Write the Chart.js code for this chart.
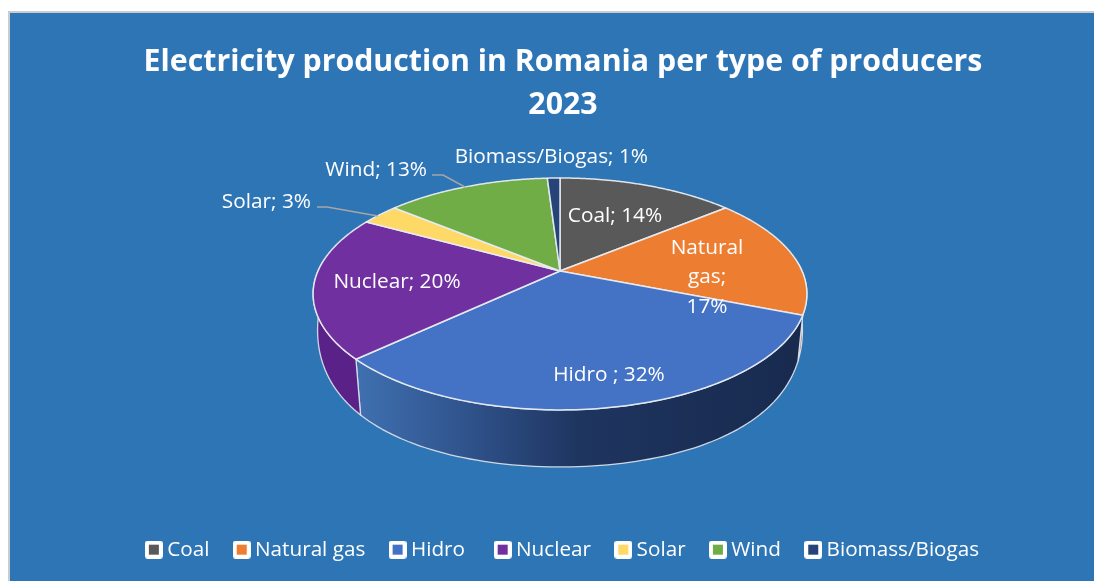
<!DOCTYPE html>
<html>
<head>
<meta charset="utf-8">
<style>html,body{margin:0;padding:0;background:#fff}canvas{display:block}</style>
<script src="https://cdn.jsdelivr.net/npm/chart.js@4"></script>
</head>
<body>
<div style="width:1094px;height:581px"><canvas id="c" width="1094" height="581"></canvas></div>
<script>
const titleLines = ['Electricity production in Romania per type of producers', '2023'];
const categories = ['Coal', 'Natural gas', 'Hidro ', 'Nuclear', 'Solar', 'Wind', 'Biomass/Biogas'];
const values = [14, 17, 32, 20, 3, 13, 1];
const colors = ['#595959', '#ED7D31', '#4472C4', '#7030A0', '#FFD966', '#70AD47', '#264478'];

// Perspective of the pie disc (top face and lower rim)
const disc = {cx: 560, cy: 271, a: 242, b: 111.4, k: -0.198};
const rim = {cx: 560, cy: 296.5, a: 238, b: 179, kx: -0.19, ky: 0.05};
const topPt = t => { const u = Math.cos(t), v = Math.sin(t), d = 1 + disc.k * v;
  return [disc.cx + disc.a * u / d, disc.cy + disc.b * v / d]; };
const rimPt = t => { const u = Math.cos(t), v = Math.sin(t);
  return [rim.cx + rim.a * u / (1 + rim.kx * v), rim.cy + rim.b * v / (1 + rim.ky * v)]; };

// Label placement: [anchor x, first line y, align], optional leader polyline
const labelPlaces = [
  {x: 615, y: 216, align: 'center'},
  {x: 707, y: 248, align: 'center', wrap: true, lh: 29.5},
  {x: 609, y: 375, align: 'center'},
  {x: 397, y: 282, align: 'center'},
  {x: 311, y: 202, align: 'right', leader: [[317, 207], [327, 207], [378, 216]]},
  {x: 427, y: 170, align: 'right', leader: [[432, 175], [443, 175], [465, 187]]},
  {x: 648, y: 157, align: 'right'}
];
const FONT = '"Open Sans", "Noto Sans", sans-serif';

function swatch(color) {
  const c = document.createElement('canvas'); c.width = 18; c.height = 18;
  const x = c.getContext('2d');
  x.fillStyle = '#fff'; x.beginPath(); x.roundRect(0, 0, 18, 18, 3); x.fill();
  x.fillStyle = color; x.fillRect(4, 4, 10, 10);
  return c;
}

const backgroundPlugin = {
  id: 'panel',
  afterLayout(chart) { chart.legend.left += 4; },
  beforeDraw(chart) {
    const g = chart.ctx;
    g.save();
    g.fillStyle = '#fff'; g.fillRect(0, 0, 1094, 581);
    g.fillStyle = '#c9ccd0'; g.fillRect(8, 11, 1086, 570);
    g.fillStyle = '#2E75B6'; g.fillRect(10, 13, 1084, 568);
    g.restore();
  }
};

function sideFill(g, i) {
  if (i === 2) {
    const gr = g.createLinearGradient(358, 0, 800, 0);
    gr.addColorStop(0, '#3F70B0');
    gr.addColorStop(0.27, '#2E5088');
    gr.addColorStop(0.5, '#1E3560');
    gr.addColorStop(1, '#182A4E');
    return gr;
  }
  if (i === 1) return '#9A7058';
  if (i === 3) return '#5A2288';
  return colors[i];
}

const pie3d = {
  id: 'pie3d',
  beforeDatasetDraw(chart, args) {
    const g = chart.ctx, arcs = chart.getDatasetMeta(args.index).data;
    g.save();
    g.lineJoin = 'round';
    // rim
    arcs.forEach((arc, i) => {
      const s = Math.max(arc.startAngle, -0.1), e = Math.min(arc.endAngle, Math.PI + 0.1);
      if (e <= s) return;
      const n = 80;
      g.beginPath();
      for (let j = 0; j <= n; j++) { const p = topPt(s + (e - s) * j / n); j ? g.lineTo(p[0], p[1]) : g.moveTo(p[0], p[1]); }
      for (let j = n; j >= 0; j--) { const p = rimPt(s + (e - s) * j / n); g.lineTo(p[0], p[1]); }
      g.closePath();
      g.fillStyle = sideFill(g, i); g.fill();
      g.strokeStyle = 'rgba(225,230,236,0.9)'; g.lineWidth = 1.3; g.stroke();
    });
    // top faces
    arcs.forEach((arc, i) => {
      const s = arc.startAngle, e = arc.endAngle, n = 120;
      g.beginPath(); g.moveTo(disc.cx, disc.cy);
      for (let j = 0; j <= n; j++) { const p = topPt(s + (e - s) * j / n); g.lineTo(p[0], p[1]); }
      g.closePath();
      g.fillStyle = colors[i]; g.fill();
      g.strokeStyle = 'rgba(232,236,242,0.95)'; g.lineWidth = 1.5; g.stroke();
    });
    g.restore();
    return false;
  },
  afterDatasetsDraw(chart) {
    const g = chart.ctx;
    g.save();
    g.font = '20.8px ' + FONT; g.fillStyle = '#fff'; g.textBaseline = 'middle';
    categories.forEach((name, i) => {
      const place = labelPlaces[i], text = name + '; ' + values[i] + '%';
      const lines = place.wrap ? text.split(' ') : [text];
      g.textAlign = place.align;
      lines.forEach((l, j) => g.fillText(l, place.x, place.y + j * (place.lh || 0)));
      if (place.leader) {
        g.beginPath();
        place.leader.forEach((p, j) => j ? g.lineTo(p[0], p[1]) : g.moveTo(p[0], p[1]));
        g.strokeStyle = '#A6A6A6'; g.lineWidth = 1.5; g.stroke();
      }
    });
    g.restore();
  }
};

new Chart(document.getElementById('c'), {
  type: 'pie',
  data: {labels: categories, datasets: [{data: values, backgroundColor: colors}]},
  plugins: [backgroundPlugin, pie3d],
  options: {
    responsive: false,
    animation: false,
    layout: {padding: {left: 32, right: 0, top: 41, bottom: 11}},
    plugins: {
      tooltip: {enabled: false},
      title: {
        display: true, text: titleLines, color: '#fff',
        font: {family: FONT, size: 30.3, weight: 'bold', lineHeight: 1.42},
        padding: {top: 0, bottom: 10}
      },
      legend: {
        position: 'bottom',
        labels: {
          color: '#fff', font: {family: FONT, size: 20.7}, usePointStyle: true, boxWidth: 6, boxHeight: 18, padding: 29.3,
          generateLabels: () => categories.map((name, i) => ({
            text: name, pointStyle: swatch(colors[i]), fontColor: '#fff', index: i,
            fillStyle: colors[i], strokeStyle: '#fff', lineWidth: 0
          }))
        }
      }
    }
  }
});
</script>
</body>
</html>
